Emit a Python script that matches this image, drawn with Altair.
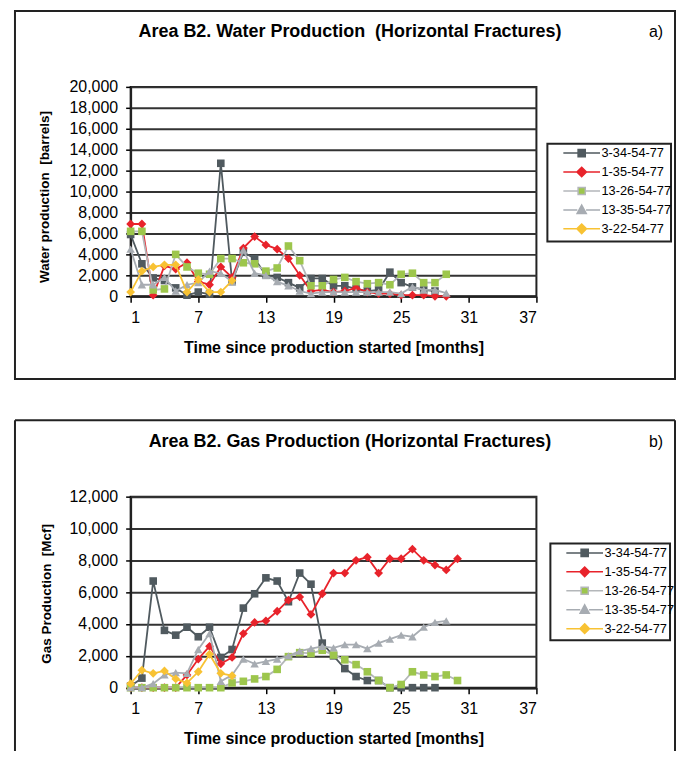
import altair as alt
import pandas as pd

# ---------------- data ----------------
series_names = ["3-34-54-77", "1-35-54-77", "13-26-54-77", "13-35-54-77", "3-22-54-77"]
marker_colors = ["#505a5f", "#e8232b", "#9dc64c", "#a7acb2", "#f8c233"]
line_colors = ["#505a5f", "#e8232b", "#b4b7ba", "#a7acb2", "#f8c233"]
marker_shapes = ["square", "diamond", "square", "triangle-up", "diamond"]
marker_sizes = [58, 78, 58, 72, 78]

x_ticks = [1, 7, 13, 19, 25, 31, 37]
water_y_ticks = [0, 2000, 4000, 6000, 8000, 10000, 12000, 14000, 16000, 18000, 20000]
gas_y_ticks = [0, 2000, 4000, 6000, 8000, 10000, 12000]

water_3_34 = [5900, 3100, 1750, 1500, 800, 100, 400, 200, 12700, 1400, 4200, 3600, 2000, 1800,
              1300, 800, 1700, 1700, 1000, 1000, 700, 500, 600, 2300, 1300, 900, 600, 500]
water_1_35 = [6900, 6900, 100, 2900, 2600, 3200, 1400, 1100, 2800, 1800, 4600, 5700, 4900, 4500,
              3600, 2000, 500, 600, 400, 500, 800, 400, 250, 250, 100, 100, 100, 0, 0]
water_13_26 = [6200, 6200, 600, 700, 4000, 2800, 2200, 2100, 3600, 3600, 3200, 3100, 2400, 2700,
               4800, 3400, 1000, 1000, 1600, 1800, 1400, 1200, 1300, 1100, 2100, 2200, 1300, 1300, 2100]
water_13_35 = [4500, 1100, 1100, 1800, 500, 1100, 1300, 2400, 2200, 1400, 4400, 2200, 2000, 1400,
               1000, 500, 250, 400, 400, 400, 400, 400, 400, 400, 250, 900, 600, 600, 300]
water_3_22 = [400, 2400, 2800, 3000, 3000, 400, 1600, 400, 400, 1500]

gas_3_34 = [100, 600, 6700, 3600, 3300, 3800, 3200, 3800, 1900, 2400, 5000, 5900, 6900, 6700,
            5400, 7200, 6500, 2800, 2000, 1200, 700, 450, 450, 0, 0, 0, 0, 0]
gas_1_35 = [0, 0, 0, 0, 0, 800, 1800, 2600, 1500, 1900, 3400, 4100, 4200, 4800, 5500, 5700,
            4600, 5900, 7200, 7200, 8000, 8200, 7200, 8100, 8100, 8700, 8000, 7700, 7400, 8100]
gas_13_26 = [0, 0, 0, 0, 0, 0, 0, 0, 0, 300, 400, 550, 700, 1150, 1950, 2200, 2150, 2350, 2050,
             1750, 1450, 1000, 450, 0, 200, 1000, 800, 700, 800, 450]
gas_13_35 = [0, 0, 250, 800, 950, 900, 2400, 3400, 400, 800, 1800, 1500, 1650, 1800, 2000, 2300,
             2450, 2600, 2500, 2700, 2700, 2450, 2800, 3050, 3300, 3200, 3800, 4100, 4200]
gas_3_22 = [250, 1100, 900, 1050, 550, 300, 1000, 2100, 900, 750]

water_title = "Area B2. Water Production\u00a0 (Horizontal Fractures)"
gas_title = "Area B2. Gas Production (Horizontal Fractures)"
x_title = "Time since production started [months]"

# legend symbols: line with marker (custom paths)
legend_paths = [
    "M-4.6,0H-0.9M0.9,0H4.6M-0.9,-0.9H0.9V0.9H-0.9Z",
    "M-4.6,0H-1.2M1.2,0H4.6M0,-1.2L1.2,0L0,1.2L-1.2,0Z",
    "M-4.6,0H-0.9M0.9,0H4.6M-0.9,-0.9H0.9V0.9H-0.9Z",
    "M-4.6,0H-1.1M1.1,0H4.6M0,-1.2L1.15,0.9H-1.15Z",
    "M-4.6,0H-1.2M1.2,0H4.6M0,-1.2L1.2,0L0,1.2L-1.2,0Z",
]

FONT = "Liberation Sans"
BOX_L, BOX_R = -116, 546


def long_df(arrays):
    rows = []
    for name, vals in zip(series_names, arrays):
        for i, v in enumerate(vals):
            rows.append({"series": name, "month": i + 1, "value": v})
    return pd.DataFrame(rows)


def panel(arrays, title, tag, ytitle, ymax, yticks, height, ytitle_x, ytitle_y,
          leg_box, box_top, box_bottom, closed_box):
    df = long_df(arrays)
    width = 407
    x_enc = alt.X("month:Q", scale=alt.Scale(domain=[1, 37], nice=False, zero=False),
                  axis=alt.Axis(values=x_ticks, grid=False, title=x_title, tickSize=6,
                                labelPadding=7, titleY=51, titleBaseline="middle"))
    y_enc = alt.Y("value:Q", scale=alt.Scale(domain=[0, ymax], nice=False),
                  axis=alt.Axis(values=yticks, format=",d", title=ytitle, tickSize=5,
                                labelPadding=8, titleX=ytitle_x, titleY=ytitle_y,
                                titleAngle=270, titleAlign="center", titleBaseline="middle"))
    one = pd.DataFrame({"k": [0]})
    layers = []
    # panel frame
    if closed_box:
        layers.append(alt.Chart(one).mark_rect(fillOpacity=0, stroke="#222", strokeWidth=2).encode(
            x=alt.value(BOX_L), x2=alt.value(BOX_R), y=alt.value(box_top), y2=alt.value(box_bottom)))
    else:
        layers.append(alt.Chart(one).mark_rule(stroke="#222", strokeWidth=2).encode(
            x=alt.value(BOX_L), x2=alt.value(BOX_R), y=alt.value(box_top)))
        layers.append(alt.Chart(one).mark_rule(stroke="#222", strokeWidth=2).encode(
            x=alt.value(BOX_L), y=alt.value(box_top), y2=alt.value(box_bottom)))
        layers.append(alt.Chart(one).mark_rule(stroke="#222", strokeWidth=2).encode(
            x=alt.value(BOX_R), y=alt.value(box_top), y2=alt.value(box_bottom)))
    # legend frame
    lx0, ly0, lx1, ly1 = leg_box
    layers.append(alt.Chart(one).mark_rect(fillOpacity=0, stroke="#222", strokeWidth=2).encode(
        x=alt.value(lx0), x2=alt.value(lx1), y=alt.value(ly0), y2=alt.value(ly1)))
    # series
    for name, mc, lc, shp, sz in zip(series_names, marker_colors, line_colors, marker_shapes, marker_sizes):
        base = alt.Chart(df).transform_filter(alt.datum.series == name)
        layers.append(base.mark_line(color=lc, strokeWidth=1.8).encode(x=x_enc, y=y_enc))
        layers.append(base.mark_point(filled=True, shape=shp, size=sz, color=mc, opacity=1).encode(
            x=x_enc, y=y_enc))
    # legend
    leg = alt.Legend(title=None, orient="none", legendX=lx0 + 28, legendY=ly0 + 3,
                     padding=0, symbolSize=64, symbolStrokeWidth=1.5, symbolOpacity=1,
                     labelOffset=13.5, labelFontSize=12.8, labelFont=FONT, labelColor="black",
                     rowPadding=3.0)
    leg_df = pd.DataFrame({"series": series_names})
    layers.append(alt.Chart(leg_df).mark_point(filled=True, opacity=0).encode(
        fill=alt.Fill("series:N", scale=alt.Scale(domain=series_names, range=marker_colors), legend=leg),
        stroke=alt.Stroke("series:N", scale=alt.Scale(domain=series_names, range=line_colors), legend=leg),
        shape=alt.Shape("series:N", scale=alt.Scale(domain=series_names, range=legend_paths), legend=leg),
    ))
    # title and tag
    layers.append(alt.Chart(pd.DataFrame({"t": [title]})).mark_text(
        fontSize=18, fontWeight="bold", align="center", baseline="middle", color="black").encode(
        text="t:N", x=alt.value(220), y=alt.value(-55)))
    layers.append(alt.Chart(pd.DataFrame({"t": [tag]})).mark_text(
        fontSize=16, align="center", baseline="middle", color="black").encode(
        text="t:N", x=alt.value(527), y=alt.value(-55)))
    return alt.layer(*layers).properties(width=width, height=height)


top = panel([water_3_34, water_1_35, water_13_26, water_13_35, water_3_22],
            water_title, "a)", "Water production\u00a0 [barrels]", 20000, water_y_ticks, 210,
            -86, 110, (418, 57, 542, 155), -76, 293, True)
bottom = panel([gas_3_34, gas_1_35, gas_13_26, gas_13_35, gas_3_22],
               gas_title, "b)", "Gas Production\u00a0 [Mcf]", 12000, gas_y_ticks, 191.6,
               -84, 97, (421, 47, 541, 144), -76.7, 255, False)

chart = alt.vconcat(top, bottom, spacing=37).resolve_scale(
    fill="independent", stroke="independent", shape="independent"
).resolve_legend(
    fill="independent", stroke="independent", shape="independent"
).properties(
    padding={"left": 5, "top": 0, "right": 0, "bottom": 0}
).configure(font=FONT).configure_view(stroke="#222", strokeWidth=2).configure_axis(
    labelFontSize=16, labelColor="black", labelFont=FONT, tickColor="black", tickWidth=1.5,
    domainColor="#222", domainWidth=2, gridColor="#333", gridWidth=2,
    titleFontSize=16, titleFontWeight="bold", titleColor="black", titleFont=FONT
).configure_axisY(titleFontSize=13.5)

chart.save("out.html", embed_options={"renderer": "svg", "actions": False})
